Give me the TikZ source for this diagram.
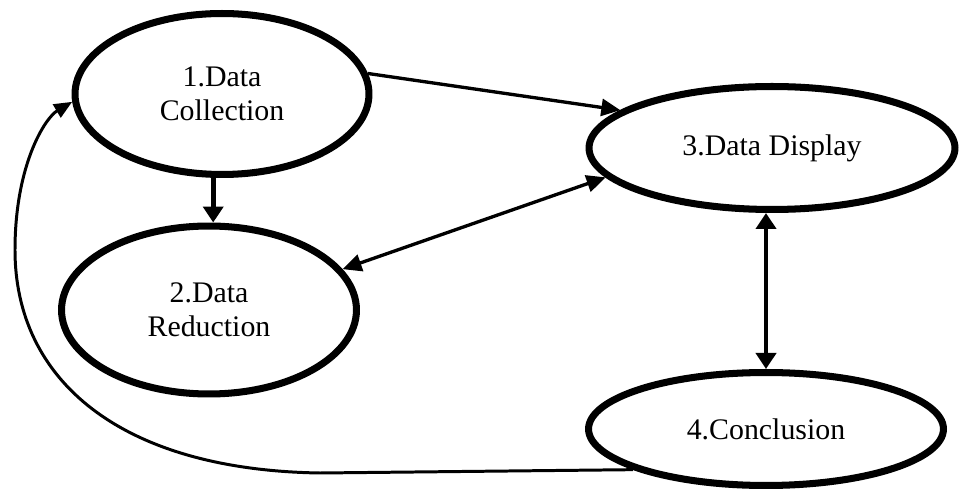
\documentclass[tikz,border=0pt]{standalone}
\usepackage{fontspec}
\setmainfont{Liberation Serif}
\usetikzlibrary{shapes.geometric,arrows.meta}
\tikzset{
  stage/.style={ellipse, draw=black, line width=4pt, fill=white, inner sep=0pt, align=center,
    font=\fontsize{17}{19.5}\selectfont},
  thickarrow/.style={line width=2.8pt, -{Triangle[length=0.32cm,width=0.4cm]}},
  thickboth/.style={line width=2.8pt, {Triangle[length=0.32cm,width=0.4cm]}-{Triangle[length=0.32cm,width=0.4cm]}},
  diagarrow/.style={line width=1.9pt, -{Triangle[length=0.38cm,width=0.34cm]}},
  diagboth/.style={line width=1.9pt, {Triangle[length=0.38cm,width=0.34cm]}-{Triangle[length=0.38cm,width=0.34cm]}},
  loopback/.style={line width=1.7pt, -{Triangle[length=0.36cm,width=0.3cm]}}
}
\begin{document}
\begin{tikzpicture}[x=0.02cm, y=-0.02cm]
\useasboundingbox (0,0) rectangle (960,489);
\node[stage, minimum width=5.88cm, minimum height=3.22cm] (n1) at (222,94) {1.Data\\Collection};
\node[stage, minimum width=5.9cm, minimum height=3.36cm] (n2) at (209,310) {2.Data\\Reduction};
\node[stage, minimum width=7.32cm, minimum height=2.46cm] (n3) at (772,148) {3.Data Display};
\node[stage, minimum width=7.1cm, minimum height=2.26cm] (n4) at (766,429) {4.Conclusion};

\draw[diagarrow] (n1.8) -- (n3.166);
\draw[thickarrow] (n1.264) -- (n1.264 |- n2.north);
\draw[diagboth] (n2.17) -- (n3.190);
\draw[thickboth] (n4.north) -- (n4.north |- n3.south);
\coordinate (c1) at (320,473);
\coordinate (c2) at (15,250);
\draw[loopback] (n4.197) -- (c1) .. controls (120,470) and (15,380) .. (c2)
  .. controls (15,165) and (45,118) .. (n1.183);
\end{tikzpicture}
\end{document}
